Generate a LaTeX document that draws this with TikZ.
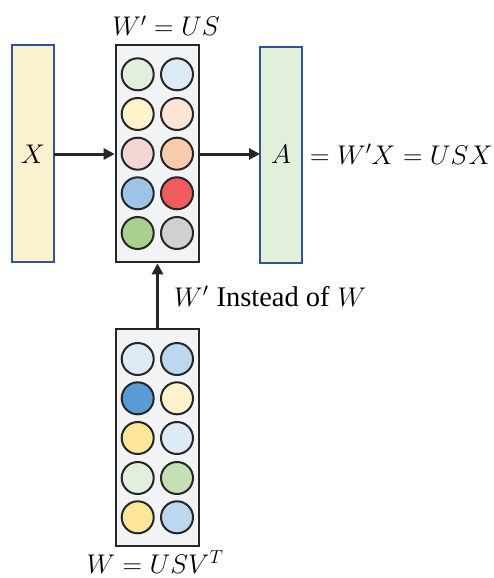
\RequirePackage{fix-cm}
\documentclass[tikz,border=0pt]{standalone}
\usepackage{fontspec}
\setmainfont{Liberation Serif}
\usetikzlibrary{arrows.meta}

% palette
\definecolor{boxfill}{HTML}{F1F3F5}
\definecolor{rectblue}{HTML}{2F5597}
\definecolor{lyellow}{HTML}{FCF1CF}
\definecolor{lgreen}{HTML}{E2EFDA}
\definecolor{lblue}{HTML}{DDEBF7}
\definecolor{cream}{HTML}{FFF2CC}
\definecolor{peach}{HTML}{FCE4D6}
\definecolor{pink}{HTML}{F2D7D5}
\definecolor{orange}{HTML}{F8CBAD}
\definecolor{midblue}{HTML}{9DC3E6}
\definecolor{red}{HTML}{EF5B5F}
\definecolor{green}{HTML}{A9D18E}
\definecolor{gray}{HTML}{D0D0D0}
\definecolor{skyblue}{HTML}{BDD7EE}
\definecolor{darkblue}{HTML}{5B9BD5}
\definecolor{gold}{HTML}{FFE699}
\definecolor{sage}{HTML}{C5E0B4}

\tikzset{
  vecrect/.style={draw=rectblue, line width=1.2pt},
  matbox/.style={draw=black!85, line width=2.6pt, fill=boxfill},
  cell/.style={circle, draw=black!85, line width=2pt, minimum size=32pt, inner sep=0pt},
  flow/.style={draw=black!85, line width=3pt, -{Triangle[length=11pt,width=11pt]}},
  lbl/.style={font=\fontsize{27}{32}\selectfont, inner sep=0pt}
}

\begin{document}
\begin{tikzpicture}[x=1pt,y=-1pt]
  \useasboundingbox (0,0) rectangle (494,578);

  % input and output vectors
  \draw[vecrect, fill=lyellow] (12,45) rectangle (54,262);
  \draw[vecrect, fill=lgreen] (260,47) rectangle (302,263);
  \node[lbl] (xlab) at (33,154) {$X$};
  \node[lbl] (alab) at (281,154) {$A$};
  \node[lbl, anchor=west] (aeq) at (310,154) {$=W'X=USX$};

  % compressed weight W' = US
  \node[matbox, minimum width=83pt, minimum height=217pt, inner sep=0pt] (top) at (157.5,153.5) {};
  \foreach \r/\ca/\cb [count=\i] in {74.3/lgreen/lblue, 114/cream/peach, 153.7/pink/orange, 193.3/midblue/red, 233/green/gray}
  {
    \node[cell, fill=\ca] (t\i a) at (137.7,\r) {};
    \node[cell, fill=\cb] (t\i b) at (177,\r) {};
  }
  \node[lbl, anchor=base] (toplab) at (166,36) {$W'=US$};

  % original weight W = USV^T
  \node[matbox, minimum width=83pt, minimum height=217pt, inner sep=0pt] (bot) at (157.5,437.5) {};
  \foreach \r/\ca/\cb [count=\i] in {359/lblue/skyblue, 398.3/darkblue/cream, 438/gold/lblue, 478/lgreen/sage, 517.3/gold/skyblue}
  {
    \node[cell, fill=\ca] (b\i a) at (137.7,\r) {};
    \node[cell, fill=\cb] (b\i b) at (177,\r) {};
  }
  \node[lbl, anchor=base] (botlab) at (155,573.5) {$W=USV^T$};

  % connectors
  \coordinate (xr) at (54,154);
  \coordinate (ain) at (260,154);
  \draw[flow] (xr) -- (top.west |- xr);
  \draw[flow] (top.east |- ain) -- (ain);
  \draw[flow] (bot.north) -- (top.south);
  \node[lbl, anchor=base west] (mid) at (174,306)
    {$W'$\hspace{8pt}{\fontsize{28.5}{32}\selectfont Instead of}\hspace{8pt}$W$};
\end{tikzpicture}
\end{document}
